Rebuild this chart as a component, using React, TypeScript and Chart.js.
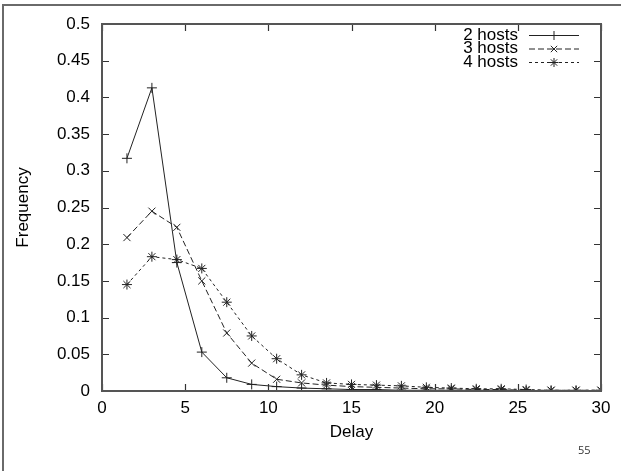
import React, { useEffect, useRef } from "react";
import { Chart, registerables } from "chart.js";

Chart.register(...registerables);

const delays = [1.5, 3, 4.5, 6, 7.5, 9, 10.5, 12, 13.5, 15, 16.5, 18, 19.5, 21, 22.5, 24, 25.5, 27, 28.5, 30];
const hosts2 = [0.317, 0.413, 0.175, 0.053, 0.018, 0.009, 0.006, 0.004, 0.003, 0.002, 0.002, 0.001, 0.001, 0.001, 0.001, 0.001, 0, 0, 0, 0];
const hosts3 = [0.209, 0.245, 0.223, 0.15, 0.079, 0.038, 0.016, 0.011, 0.008, 0.006, 0.005, 0.004, 0.003, 0.003, 0.002, 0.002, 0.001, 0.001, 0.001, 0.001];
const hosts4 = [0.145, 0.183, 0.179, 0.167, 0.121, 0.075, 0.044, 0.022, 0.011, 0.009, 0.008, 0.007, 0.005, 0.004, 0.003, 0.003, 0.002, 0.001, 0.001, 0.001];
const seriesLabels = ["2 hosts", "3 hosts", "4 hosts"];
const xTitle = "Delay";
const yTitle = "Frequency";
const pageNumber = "55";

const FONT = "'Liberation Sans', Arial, sans-serif";

function drawMarker(ctx: CanvasRenderingContext2D, style: string, x: number, y: number, r: number) {
  ctx.beginPath();
  const plus = () => {
    ctx.moveTo(x - r, y);
    ctx.lineTo(x + r, y);
    ctx.moveTo(x, y - r);
    ctx.lineTo(x, y + r);
  };
  const times = () => {
    const d = r * Math.SQRT1_2;
    ctx.moveTo(x - d, y - d);
    ctx.lineTo(x + d, y + d);
    ctx.moveTo(x - d, y + d);
    ctx.lineTo(x + d, y - d);
  };
  if (style === "cross") plus();
  else if (style === "crossRot") times();
  else {
    plus();
    times();
  }
  ctx.stroke();
}

const framePlugin = {
  id: "gnuplotFrame",
  afterDraw(chart: any) {
    const ctx = chart.ctx;
    const { left, right, top, bottom } = chart.chartArea;
    const xs = chart.scales.x;
    const ys = chart.scales.y;
    ctx.save();
    // outer slide frame
    ctx.strokeStyle = "#6a6a6a";
    ctx.lineWidth = 2;
    ctx.beginPath();
    ctx.moveTo(3, chart.height);
    ctx.lineTo(3, 5);
    ctx.lineTo(chart.width, 5);
    ctx.stroke();
    // inward ticks
    ctx.strokeStyle = "#333";
    ctx.lineWidth = 1.2;
    const tl = 7;
    ctx.beginPath();
    xs.ticks.forEach((t: any) => {
      const px = Math.round(xs.getPixelForValue(t.value)) + 0.5;
      ctx.moveTo(px, bottom);
      ctx.lineTo(px, bottom - tl);
      ctx.moveTo(px, top);
      ctx.lineTo(px, top + tl);
    });
    ys.ticks.forEach((t: any) => {
      const py = Math.round(ys.getPixelForValue(t.value)) + 0.5;
      ctx.moveTo(left, py);
      ctx.lineTo(left + tl, py);
      ctx.moveTo(right, py);
      ctx.lineTo(right - tl, py);
    });
    ctx.stroke();
    // plot box
    ctx.strokeStyle = "#555";
    ctx.lineWidth = 2;
    ctx.strokeRect(left, top, right - left, bottom - top);
    // legend
    ctx.font = `17px ${FONT}`;
    ctx.textAlign = "right";
    ctx.textBaseline = "middle";
    chart.data.datasets.forEach((ds: any, i: number) => {
      const y = 35 + i * 13.5;
      ctx.fillStyle = "#000";
      ctx.fillText(ds.label, 518, y);
      ctx.strokeStyle = ds.borderColor;
      ctx.lineWidth = ds.borderWidth;
      ctx.setLineDash(ds.borderDash || []);
      ctx.beginPath();
      ctx.moveTo(529, y + 0.5);
      ctx.lineTo(579, y + 0.5);
      ctx.stroke();
      ctx.setLineDash([]);
      ctx.lineWidth = 1;
      drawMarker(ctx, ds.pointStyle, 554, y + 0.5, 4.5);
    });
    // page number
    ctx.font = "11px 'Open Sans', 'Noto Sans', sans-serif";
    ctx.textAlign = "left";
    ctx.textBaseline = "middle";
    ctx.fillStyle = "#333";
    ctx.fillText(pageNumber, 578, 451);
    ctx.restore();
  },
};

export default function App() {
  const ref = useRef<HTMLCanvasElement>(null);
  useEffect(() => {
    document.body.style.margin = "0";
    const mk = (label: string, vals: number[], style: string, dash: number[]) => ({
      label,
      data: delays.map((d, i) => ({ x: d, y: vals[i] })),
      borderColor: "#222",
      backgroundColor: "#222",
      borderWidth: 1,
      borderDash: dash,
      pointStyle: style,
      pointRadius: 5,
      pointBorderWidth: 1,
      pointBorderColor: "#222",
      tension: 0,
      fill: false,
    });
    const chart = new Chart(ref.current as HTMLCanvasElement, {
      type: "line",
      data: {
        datasets: [
          mk(seriesLabels[0], hosts2, "cross", []),
          mk(seriesLabels[1], hosts3, "crossRot", [6, 3]),
          mk(seriesLabels[2], hosts4, "star", [3, 3]),
        ] as any,
      },
      options: {
        responsive: false,
        animation: false,
        layout: { padding: { top: 24, right: 20, left: 0, bottom: 0 } },
        plugins: { legend: { display: false }, tooltip: { enabled: false } },
        scales: {
          x: {
            type: "linear",
            min: 0,
            max: 30,
            grid: { display: false, drawTicks: false },
            border: { display: false },
            ticks: { stepSize: 5, padding: 7, color: "#000", font: { family: FONT, size: 17 }, maxRotation: 0 },
            title: { display: true, text: xTitle, color: "#000", font: { family: FONT, size: 17 }, padding: { top: 0, bottom: 28 } },
            afterFit: (s: any) => { s.height = 80; },
          },
          y: {
            min: 0,
            max: 0.5,
            grid: { display: false, drawTicks: false },
            border: { display: false },
            ticks: {
              stepSize: 0.05,
              padding: 12,
              color: "#000",
              font: { family: FONT, size: 17 },
              callback: (v: any) => String(Number(Number(v).toFixed(2))),
            },
            title: { display: true, text: yTitle, color: "#000", font: { family: FONT, size: 17 }, padding: { top: 13, bottom: 0 } },
            afterFit: (s: any) => { s.width = 102; },
          },
        },
      },
      plugins: [framePlugin],
    });
    return () => chart.destroy();
  }, []);
  return (
    <div style={{ position: "absolute", left: 0, top: 0, width: 621, height: 471, background: "#fff" }}>
      <canvas ref={ref} width={621} height={471} />
    </div>
  );
}
